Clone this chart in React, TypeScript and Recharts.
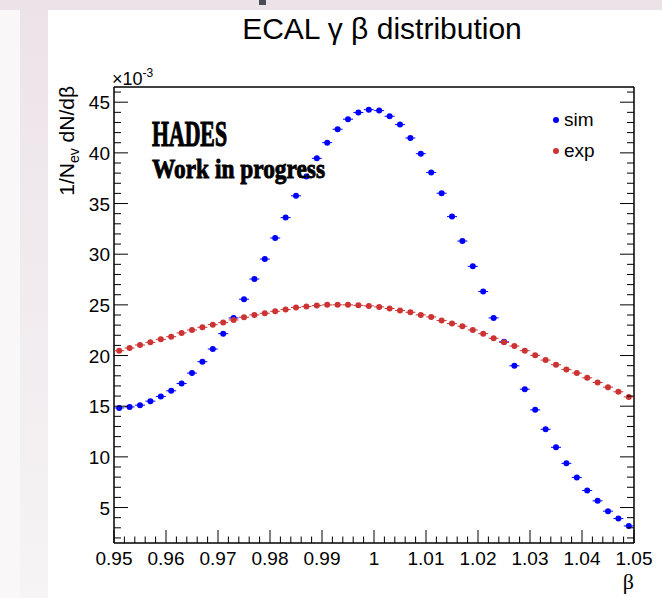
import React from "react";
import { ScatterChart, Scatter, XAxis, YAxis, Legend } from "recharts";

// bin centres of the beta histogram (50 bins of 0.002)
const betaBins = [
  0.951, 0.953, 0.955, 0.957, 0.959, 0.961, 0.963, 0.965, 0.967, 0.969,
  0.971, 0.973, 0.975, 0.977, 0.979, 0.981, 0.983, 0.985, 0.987, 0.989,
  0.991, 0.993, 0.995, 0.997, 0.999, 1.001, 1.003, 1.005, 1.007, 1.009,
  1.011, 1.013, 1.015, 1.017, 1.019, 1.021, 1.023, 1.025, 1.027, 1.029,
  1.031, 1.033, 1.035, 1.037, 1.039, 1.041, 1.043, 1.045, 1.047, 1.049,
];

// values in units of 1e-3
const simValues = [
  14.83, 14.93, 15.1, 15.5, 15.96, 16.52, 17.24, 18.27, 19.39, 20.64,
  22.16, 23.71, 25.56, 27.55, 29.52, 31.6, 33.61, 35.76, 37.67, 39.46,
  41.01, 42.33, 43.32, 43.98, 44.26, 44.17, 43.61, 42.79, 41.47, 39.92,
  38.07, 36.02, 33.71, 31.3, 28.8, 26.32, 23.71, 21.35, 18.99, 16.68,
  14.64, 12.72, 10.94, 9.36, 7.97, 6.68, 5.66, 4.64, 3.91, 3.18,
];

const expValues = [
  20.48, 20.74, 21.04, 21.3, 21.6, 21.86, 22.23, 22.52, 22.79, 23.05,
  23.25, 23.51, 23.78, 24.01, 24.17, 24.37, 24.54, 24.74, 24.83, 24.93,
  25.0, 25.0, 25.0, 24.95, 24.9, 24.8, 24.64, 24.44, 24.27, 24.01,
  23.81, 23.45, 23.15, 22.89, 22.52, 22.16, 21.7, 21.3, 20.94, 20.48,
  20.02, 19.55, 19.09, 18.63, 18.27, 17.8, 17.34, 16.88, 16.42, 15.92,
];

const seriesOrder = ["sim", "exp"];

const xMajorTicks = [0.95, 0.96, 0.97, 0.98, 0.99, 1.0, 1.01, 1.02, 1.03, 1.04, 1.05];
const xTickLabels = ["0.95", "0.96", "0.97", "0.98", "0.99", "1", "1.01", "1.02", "1.03", "1.04", "1.05"];
const yMajorTicks = [5, 10, 15, 20, 25, 30, 35, 40, 45];
const yTickLabels = ["5", "10", "15", "20", "25", "30", "35", "40", "45"];

// minor tick grid (ROOT style: 5 divisions per x major, 5 per y major)
const xMinorTicks = Array.from({ length: 51 }, (_, i) => Math.round((0.95 + i * 0.002) * 1000) / 1000);
const yMinorTicks = Array.from({ length: 45 }, (_, i) => i + 2);

const simData = betaBins.map((b, i) => ({ beta: b, value: simValues[i] }));
const expData = betaBins.map((b, i) => ({ beta: b, value: expValues[i] }));

const FONT = "'Liberation Sans', Arial, Helvetica, sans-serif";
const SERIF = "'Liberation Serif', 'DejaVu Serif', serif";
const SIM_COLOR = "#0000ff";
const EXP_COLOR = "#cc3333";

const majorIndex = (v: number, majors: number[]) =>
  majors.findIndex((m) => Math.abs(m - v) < 1e-6);

function BottomTick(props: any) {
  const { x, y, payload } = props;
  const idx = majorIndex(payload.value, xMajorTicks);
  const len = idx >= 0 ? 13 : 6.5;
  return (
    <g>
      <line x1={x} x2={x} y1={y} y2={y - len} stroke="#000" strokeWidth={1} />
      {idx >= 0 && (
        <text x={x} y={y + 22} textAnchor="middle" fontSize={19} fontFamily={FONT} fill="#000">
          {xTickLabels[idx]}
        </text>
      )}
    </g>
  );
}

function TopTick(props: any) {
  const { x, y, payload } = props;
  const len = majorIndex(payload.value, xMajorTicks) >= 0 ? 13 : 6.5;
  return <line x1={x} x2={x} y1={y} y2={y + len} stroke="#000" strokeWidth={1} />;
}

function LeftTick(props: any) {
  const { x, y, payload } = props;
  const idx = majorIndex(payload.value, yMajorTicks);
  const len = idx >= 0 ? 14 : 7;
  return (
    <g>
      <line x1={x} x2={x + len} y1={y} y2={y} stroke="#000" strokeWidth={1} />
      {idx >= 0 && (
        <text x={x - 4} y={y + 7} textAnchor="end" fontSize={19} fontFamily={FONT} fill="#000">
          {yTickLabels[idx]}
        </text>
      )}
    </g>
  );
}

function RightTick(props: any) {
  const { x, y, payload } = props;
  const len = majorIndex(payload.value, yMajorTicks) >= 0 ? 14 : 7;
  return <line x1={x} x2={x - len} y1={y} y2={y} stroke="#000" strokeWidth={1} />;
}

const marker = (color: string) => (p: any) => (
  <g>
    <line x1={p.cx - 5} x2={p.cx + 5} y1={p.cy} y2={p.cy} stroke={color} strokeWidth={1} />
    <circle cx={p.cx} cy={p.cy} r={3} fill={color} />
  </g>
);

function LegendBox(props: any) {
  const items = [...(props.payload || [])].sort(
    (a: any, b: any) => seriesOrder.indexOf(a.value) - seriesOrder.indexOf(b.value)
  );
  return (
    <div>
      {items.map((item: any) => (
        <div key={item.value} style={{ display: "flex", alignItems: "center", height: 31 }}>
          <svg width={10} height={10}>
            <circle cx={5} cy={5} r={3} fill={item.color} />
          </svg>
          <span style={{ marginLeft: 3, fontSize: 19, fontFamily: FONT, color: "#000" }}>{item.value}</span>
        </div>
      ))}
    </div>
  );
}

const axisLine = { stroke: "#000", strokeWidth: 1.5 };

export default function App() {
  return (
    <div style={{ position: "absolute", left: 0, top: 0, width: 662, height: 598, background: "#fff", overflow: "hidden" }}>
      {/* screenshot surroundings */}
      <div style={{ position: "absolute", left: 0, top: 0, width: 662, height: 10, background: "#ebe3e8" }} />
      <div style={{ position: "absolute", left: 0, top: 10, width: 20, height: 588, background: "#f9f7f8" }} />
      <div
        style={{
          position: "absolute", left: 20, top: 10, width: 28, height: 588,
          background: "linear-gradient(#ece3e8, #f6f4f5)",
        }}
      />
      <div style={{ position: "absolute", left: 259, top: 0, width: 7, height: 5, background: "#4a4a58" }} />

      <div style={{ position: "absolute", left: 0, top: 0 }}>
        <ScatterChart width={662} height={598} margin={{ top: 86, right: 27, bottom: 54, left: 113 }}>
          <XAxis
            xAxisId="bottom"
            dataKey="beta"
            type="number"
            domain={[0.95, 1.05]}
            allowDataOverflow
            ticks={xMinorTicks}
            interval={0}
            height={1}
            tickSize={0}
            tickMargin={0}
            tickLine={false}
            axisLine={axisLine}
            tick={<BottomTick />}
          />
          <XAxis
            xAxisId="top"
            orientation="top"
            type="number"
            domain={[0.95, 1.05]}
            allowDataOverflow
            ticks={xMinorTicks}
            interval={0}
            height={1}
            tickSize={0}
            tickMargin={0}
            tickLine={false}
            axisLine={axisLine}
            tick={<TopTick />}
          />
          <YAxis
            yAxisId="left"
            dataKey="value"
            type="number"
            domain={[1.5, 46.5]}
            allowDataOverflow
            ticks={yMinorTicks}
            interval={0}
            width={1}
            tickSize={0}
            tickMargin={0}
            tickLine={false}
            axisLine={axisLine}
            tick={<LeftTick />}
          />
          <YAxis
            yAxisId="right"
            orientation="right"
            type="number"
            domain={[1.5, 46.5]}
            allowDataOverflow
            ticks={yMinorTicks}
            interval={0}
            width={1}
            tickSize={0}
            tickMargin={0}
            tickLine={false}
            axisLine={axisLine}
            tick={<RightTick />}
          />
          <Legend
            layout="vertical"
            align="center"
            verticalAlign="middle"
            wrapperStyle={{ left: 551, top: 104, width: 80 }}
            content={<LegendBox />}
          />
          <Scatter
            name="sim"
            data={simData}
            xAxisId="bottom"
            yAxisId="left"
            fill={SIM_COLOR}
            shape={marker(SIM_COLOR)}
            isAnimationActive={false}
          />
          <Scatter
            name="exp"
            data={expData}
            xAxisId="bottom"
            yAxisId="left"
            fill={EXP_COLOR}
            shape={marker(EXP_COLOR)}
            isAnimationActive={false}
          />
        </ScatterChart>
      </div>

      {/* titles and annotations */}
      <svg width={662} height={598} style={{ position: "absolute", left: 0, top: 0, pointerEvents: "none" }}>
        <text x={382} y={39} textAnchor="middle" fontSize={30} fontFamily={FONT} fill="#000">
          ECAL γ β distribution
        </text>
        <text transform="translate(74,86) rotate(-90)" textAnchor="end" fontSize={21} fontFamily={FONT} fill="#000">
          1/N<tspan fontSize={14} dy={5}>ev</tspan>
          <tspan dy={-5}> dN/dβ</tspan>
        </text>
        <text x={112} y={85} fontSize={18} fontFamily={FONT} fill="#000">
          ×10<tspan fontSize={12} dy={-8}>-3</tspan>
        </text>
        <text x={634} y={589} textAnchor="end" fontSize={22} fontFamily={SERIF} fill="#000">
          β
        </text>
        <text
          x={152} y={146} fontSize={36} fontWeight={700} fontFamily={SERIF}
          stroke="#000" strokeWidth={1.2}
          textLength={75} lengthAdjust="spacingAndGlyphs" fill="#000"
        >
          HADES
        </text>
        <text
          x={152} y={178} fontSize={28} fontWeight={700} fontFamily={SERIF}
          stroke="#000" strokeWidth={0.9}
          textLength={173} lengthAdjust="spacingAndGlyphs" fill="#000"
        >
          Work in progress
        </text>
      </svg>
    </div>
  );
}
